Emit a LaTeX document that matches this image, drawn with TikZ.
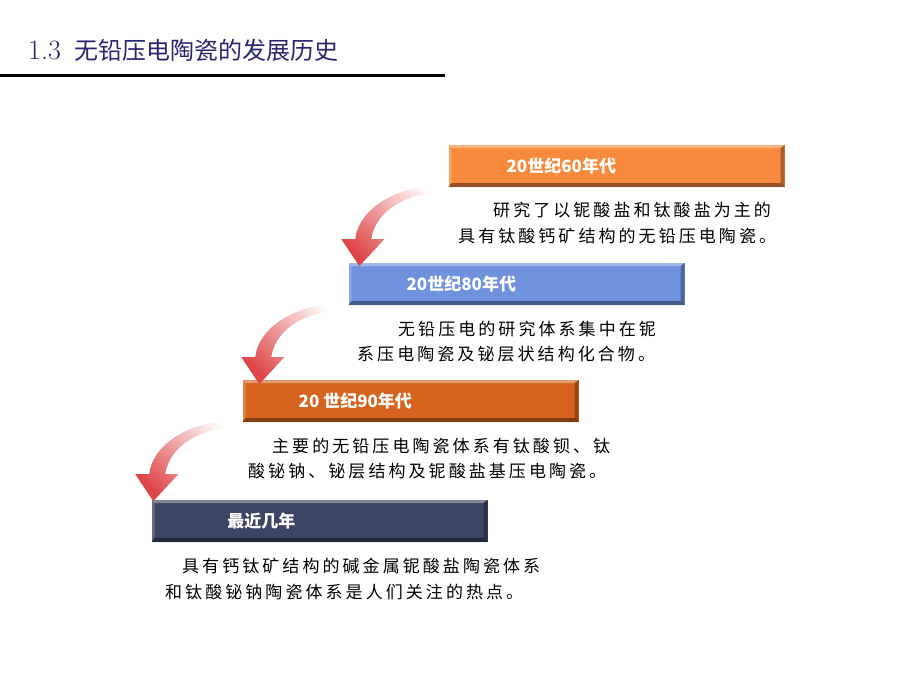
\documentclass[tikz,border=0pt]{standalone}
\usepackage{fontspec}
\usepackage{xcolor}
\usepackage{tikz}
\usetikzlibrary{positioning}

\newfontfamily\cjk{Noto Sans CJK SC}
\newfontfamily\cjkwide{Noto Sans CJK SC}[LetterSpace=18]

\definecolor{orangeA}{RGB}{247,138,60}
\definecolor{blueB}{RGB}{112,146,220}
\definecolor{orangeC}{RGB}{215,100,30}
\definecolor{navyD}{RGB}{60,69,100}
\definecolor{titleblue}{RGB}{38,38,112}
\definecolor{arrowred}{RGB}{222,70,72}

\begin{document}
\begin{tikzpicture}
    [
      x=1pt, y=-1pt,
      Stage/.style={rectangle, minimum width=336pt, minimum height=42pt, inner sep=0pt,
        path picture={
          \coordinate (nw) at (path picture bounding box.north west);
          \coordinate (ne) at (path picture bounding box.north east);
          \coordinate (sw) at (path picture bounding box.south west);
          \coordinate (se) at (path picture bounding box.south east);
          \fill[white, opacity=.35] (nw) -- (ne) -- ([shift={(-4pt,-3pt)}]ne) -- ([shift={(3pt,-3pt)}]nw) -- cycle;
          \fill[white, opacity=.2] (nw) -- (sw) -- ([shift={(3pt,4pt)}]sw) -- ([shift={(3pt,-3pt)}]nw) -- cycle;
          \fill[black, opacity=.3] (ne) -- (se) -- ([shift={(-4pt,4pt)}]se) -- ([shift={(-4pt,-3pt)}]ne) -- cycle;
          \fill[black, opacity=.4] (sw) -- (se) -- ([shift={(-4pt,4pt)}]se) -- ([shift={(3pt,4pt)}]sw) -- cycle;
        }},
      Label/.style={font=\fontsize{17}{20}\selectfont\cjk\bfseries, text=white, inner sep=0pt},
      Note/.style={anchor=west, inner sep=0pt, font=\fontsize{17}{20}\selectfont\cjkwide},
      Bend/.style={shading=axis, top color=white, middle color=arrowred!45, bottom color=arrowred, shading angle=-45},
    ]
    \useasboundingbox (0,0) rectangle (920,690);

    % Title
    \node[anchor=west, inner sep=0pt, text=titleblue, font=\fontsize{28}{30}\selectfont] (title) at (28,50) {1.3\hspace{14pt}{\fontsize{24}{28}\selectfont\cjk 无铅压电陶瓷的发展历史}};
    \coordinate (rule-l) at (0,76);
    \coordinate (rule-r) at (445,76);
    \draw[line width=3pt] (rule-l) -- (rule-r);

    % Stages
    \node[Stage, fill=orangeA] (s60) at (616.5,166) {};
    \node[Stage, fill=blueB] (s80) at (516.5,284) {};
    \node[Stage, fill=orangeC] (s90) at (410.5,401) {};
    \node[Stage, fill=navyD] (snow) at (319.5,521) {};

    \node[Label] (t60) at ([xshift=113pt]s60.west) {20世纪60年代};
    \node[Label] (t80) at ([xshift=113pt]s80.west) {20世纪80年代};
    \node[Label] (t90) at ([xshift=113pt]s90.west) {20 世纪90年代};
    \node[Label] (tnow) at ([xshift=110pt]snow.west) {最近几年};

    % Notes
    \node[Note] (n60a) at (493,210) {研究了以铌酸盐和钛酸盐为主的};
    \node[Note] (n60b) at (458,236) {具有钛酸钙矿结构的无铅压电陶瓷。};
    \node[Note] (n80a) at (398,329) {无铅压电的研究体系集中在铌};
    \node[Note] (n80b) at (357,354) {系压电陶瓷及铋层状结构化合物。};
    \node[Note] (n90a) at (272,446) {主要的无铅压电陶瓷体系有钛酸钡、钛};
    \node[Note] (n90b) at (248,471) {酸铋钠、铋层结构及铌酸盐基压电陶瓷。};
    \node[Note] (nowa) at (182,566) {具有钙钛矿结构的碱金属铌酸盐陶瓷体系};
    \node[Note] (nowb) at (165,592) {和钛酸铋钠陶瓷体系是人们关注的热点。};

    % Arrows
    \foreach \s in {s60, s80, s90}{
      \begin{scope}[shift={(\s.south west)}]
        \shade[Bend] (0,0) .. controls (-45,-6) and (-90,20) .. (-93,52)
          -- (-107,52) -- (-89,79) -- (-64,52) -- (-77,52)
          .. controls (-74,30) and (-52,6) .. (0,4) -- cycle;
      \end{scope}
    }

  \end{tikzpicture}
\end{document}
